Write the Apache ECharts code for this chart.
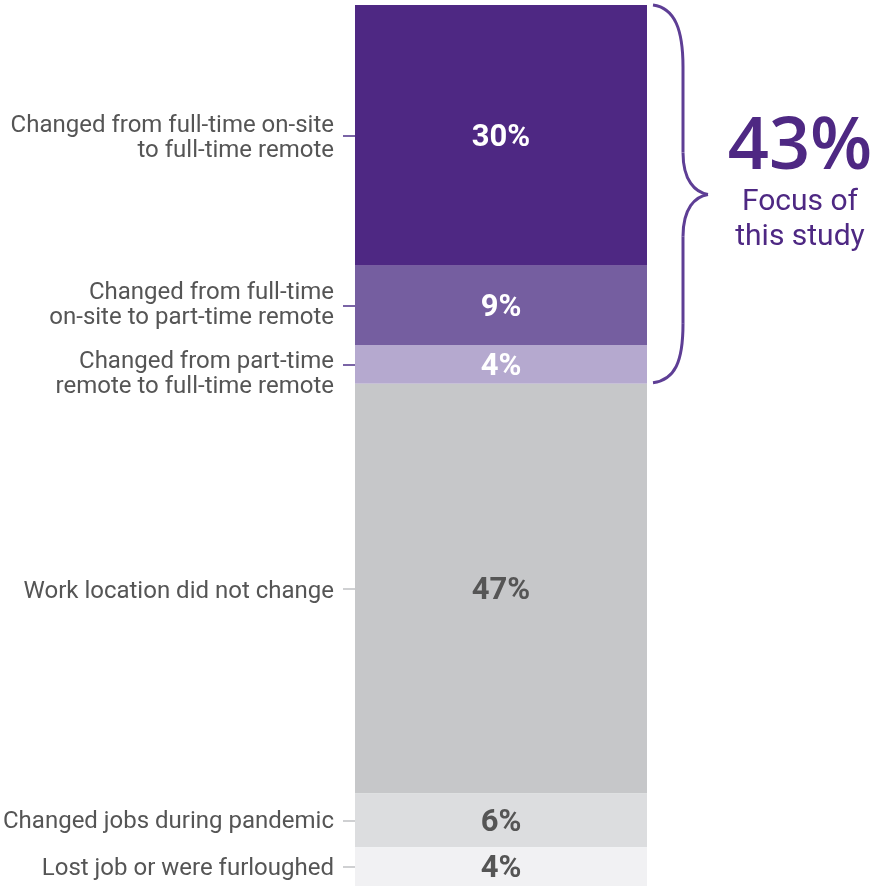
<!DOCTYPE html>
<html>
<head>
<meta charset="utf-8">
<script src="https://cdn.jsdelivr.net/npm/echarts@6/dist/echarts.min.js"></script>
<style>
  html, body { margin: 0; padding: 0; background: #fff; }
  #chart { width: 874px; height: 886px; }
</style>
</head>
<body>
<div id="chart"></div>
<script>
// segments, top to bottom
const categories = [
  'Changed from full-time on-site\nto full-time remote',
  'Changed from full-time\non-site to part-time remote',
  'Changed from part-time\nremote to full-time remote',
  'Work location did not change',
  'Changed jobs during pandemic',
  'Lost job or were furloughed'
]
const shares = [29.6, 9.0, 4.4, 46.5, 6.1, 4.4]
const focusCount = 3 // first three segments form the "focus of this study"
const focusNote = ['Focus of', 'this study']

const colors = ['#4e2883', '#755ea0', '#b5a9cf', '#c6c7c9', '#dcdddf', '#f1f1f3']
const labelColors = ['#fff', '#fff', '#fff', '#555', '#555', '#555']
const PURPLE = '#4e2883'
const GRAY_TEXT = '#555555'
const FONT = 'Roboto, sans-serif'
// push some labels a little lower (px of extra leading line)
const labelNudge = { 0: 6, 2: 20, 3: 6, 4: 4, 5: 4 }

const GRID = { left: 354, right: 227, top: 5, bottom: 0 }

// middle of every segment, in data units
const centers = []
let acc = 0
shares.forEach(v => {
  centers.push(acc + v / 2)
  acc += v
})
const findIndex = val => {
  let best = 0
  centers.forEach((c, i) => {
    if (Math.abs(c - val) < Math.abs(centers[best] - val)) best = i
  })
  return best
}

const chart = echarts.init(document.getElementById('chart'))

const series = shares.map((v, i) => ({
  name: categories[i],
  type: 'bar',
  stack: 'total',
  barWidth: '100%',
  data: [v],
  itemStyle: { color: colors[i] },
  label: {
    show: true,
    position: 'inside',
    offset: [0, 3],
    formatter: p => Math.round(p.value) + '%',
    color: labelColors[i],
    fontFamily: FONT,
    fontWeight: 'bold',
    fontSize: 31
  },
  emphasis: { disabled: true }
}))

const baseY = {
  type: 'value',
  inverse: true,
  min: 0,
  max: 100,
  position: 'left',
  splitLine: { show: false },
  axisLine: { show: false }
}

const richGaps = {}
Object.keys(labelNudge).forEach(k => {
  richGaps['g' + k] = { fontSize: 2, lineHeight: labelNudge[k] }
})

chart.setOption({
  animation: false,
  grid: GRID,
  xAxis: { type: 'category', data: ['all'], show: false },
  yAxis: [
    {
      ...baseY,
      axisTick: {
        show: true,
        length: 12,
        customValues: centers.slice(0, focusCount),
        lineStyle: { color: '#7a64a6', width: 2 }
      },
      axisLabel: {
        show: true,
        customValues: centers,
        margin: 21,
        formatter: val => {
          const i = findIndex(val)
          return labelNudge[i] ? '{g' + i + '| }\n' + categories[i] : categories[i]
        },
        rich: richGaps,
        color: GRAY_TEXT,
        fontFamily: FONT,
        fontSize: 24,
        lineHeight: 25,
        align: 'right'
      }
    },
    {
      ...baseY,
      axisTick: {
        show: true,
        length: 12,
        customValues: centers.slice(focusCount),
        lineStyle: { color: '#cfd0d2', width: 2 }
      },
      axisLabel: { show: false }
    }
  ],
  series
})

// brace and note for the focus group
const focusTotal = shares.slice(0, focusCount).reduce((a, b) => a + b, 0)
const yTop = chart.convertToPixel({ yAxisIndex: 0 }, 0)
const yBot = chart.convertToPixel({ yAxisIndex: 0 }, focusTotal)
const yMid = (yTop + yBot) / 2
const x0 = 874 - GRID.right + 6
const x1 = x0 + 30
const x2 = x0 + 55
const braceStyle = { stroke: '#5e3e95', lineWidth: 3, fill: null }
const curve = (a, b, c1, c2) => ({
  type: 'bezierCurve',
  shape: { x1: a[0], y1: a[1], x2: b[0], y2: b[1], cpx1: c1[0], cpy1: c1[1], cpx2: c2[0], cpy2: c2[1] },
  style: braceStyle
})
const seg = (a, b) => ({
  type: 'line',
  shape: { x1: a[0], y1: a[1], x2: b[0], y2: b[1] },
  style: braceStyle
})

chart.setOption({
  graphic: [
    // thin white gap between the focus group and the rest
    {
      type: 'line',
      shape: { x1: GRID.left, y1: yBot + 0.5, x2: 874 - GRID.right, y2: yBot + 0.5 },
      style: { stroke: '#fff', lineWidth: 1.5 }
    },
    curve([x0, yTop], [x1, yTop + 62], [x0 + 22, yTop + 3], [x1, yTop + 25]),
    seg([x1, yTop + 62], [x1, yMid - 42]),
    curve([x1, yMid - 42], [x2, yMid], [x1, yMid - 14], [x1 + 12, yMid - 2]),
    curve([x2, yMid], [x1, yMid + 42], [x1 + 12, yMid + 2], [x1, yMid + 14]),
    seg([x1, yMid + 42], [x1, yBot - 60]),
    curve([x1, yBot - 60], [x0, yBot - 1], [x1, yBot - 22], [x0 + 22, yBot - 4]),
    {
      type: 'text',
      x: 800,
      y: yMid - 46,
      style: {
        text: Math.round(focusTotal) + '%',
        fill: PURPLE,
        font: '600 72px "Open Sans", sans-serif',
        align: 'center',
        verticalAlign: 'middle'
      }
    },
    {
      type: 'text',
      x: 800,
      y: yMid + 26,
      style: {
        text: focusNote.join('\n'),
        fill: PURPLE,
        font: '30px ' + FONT,
        lineHeight: 35,
        align: 'center',
        verticalAlign: 'middle'
      }
    }
  ]
})
</script>
</body>
</html>
